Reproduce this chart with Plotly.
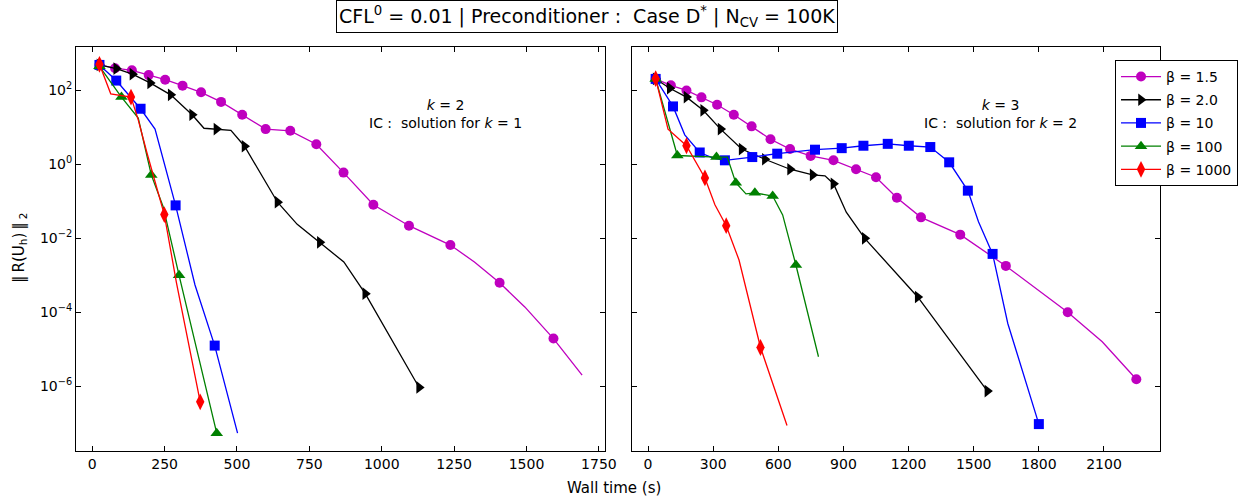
import plotly.graph_objects as go

# ---------------- data: panel k = 2 (IC: solution for k = 1) ----------------
k2_b15_t = [25, 79, 137, 195, 252, 312, 376, 445, 518, 599, 684, 774, 868, 971, 1094, 1237, 1320, 1407, 1494, 1593, 1692]
k2_b15_r = [490, 400, 350, 260, 195, 135, 89, 49, 22, 9.0, 8.1, 3.5, 0.60, 0.081, 0.022, 0.0066, 0.0023, 6.3e-4, 1.4e-4, 1.95e-5, 2.0e-6]
k2_b15_m = [1, 1, 1, 1, 1, 1, 1, 1, 1, 1, 1, 1, 1, 1, 1, 1, 0, 1, 0, 1, 0]

k2_b20_t = [25, 83, 139, 200, 271, 345, 386, 429, 479, 526, 640, 708, 786, 869, 943, 1129]
k2_b20_r = [490, 390, 275, 160, 76, 22, 9.5, 9.0, 8.3, 3.1, 0.095, 0.024, 0.0078, 0.0023, 3.2e-4, 9.3e-7]
k2_b20_m = [1, 1, 1, 1, 1, 1, 0, 1, 0, 1, 1, 0, 1, 0, 1, 1]

k2_b10_t = [25, 83, 167, 217, 288, 355, 423, 502]
k2_b10_r = [490, 185, 32, 9.0, 0.078, 5.5e-4, 1.26e-5, 5.4e-8]
k2_b10_m = [1, 1, 1, 0, 1, 0, 1, 0]

k2_b100_t = [25, 101, 159, 204, 245, 300, 430]
k2_b100_r = [450, 66, 18, 0.52, 0.072, 1.0e-3, 5.4e-8]
k2_b100_m = [1, 1, 0, 1, 0, 1, 1]

k2_b1000_t = [25, 64, 134, 159, 188, 249, 291, 373]
k2_b1000_r = [510, 81, 66, 16, 2.2, 0.044, 6.3e-4, 3.8e-7]
k2_b1000_m = [1, 0, 1, 0, 0, 1, 0, 1]

# ---------------- data: panel k = 3 (IC: solution for k = 2) ----------------
k3_b15_t = [35, 105, 177, 246, 318, 395, 477, 564, 654, 749, 854, 958, 1050, 1146, 1257, 1438, 1648, 1933, 2092, 2249]
k3_b15_r = [205, 138, 100, 65, 41, 22, 10.7, 4.8, 2.6, 1.7, 1.29, 0.74, 0.45, 0.126, 0.037, 0.0126, 0.0018, 1.0e-4, 1.6e-5, 1.55e-6]
k3_b15_m = [1, 1, 1, 1, 1, 1, 1, 1, 1, 1, 1, 1, 1, 1, 1, 1, 1, 1, 0, 1]

k3_b20_t = [35, 100, 177, 254, 334, 431, 538, 654, 758, 815, 854, 913, 998, 1242, 1563]
k3_b20_r = [205, 115, 66, 29, 9.0, 2.6, 1.38, 0.74, 0.52, 0.49, 0.30, 0.051, 0.010, 2.6e-4, 7.4e-7]
k3_b20_m = [1, 1, 1, 1, 1, 1, 1, 1, 1, 0, 1, 0, 1, 1, 1]

k3_b10_t = [35, 115, 169, 238, 300, 354, 480, 595, 769, 892, 992, 1104, 1201, 1300, 1387, 1473, 1522, 1587, 1657, 1800]
k3_b10_r = [205, 37, 6.3, 2.1, 1.48, 1.29, 1.58, 1.95, 2.5, 2.75, 3.2, 3.6, 3.2, 2.95, 1.14, 0.195, 0.028, 0.0038, 5e-5, 9.5e-8]
k3_b10_m = [1, 1, 0, 1, 0, 1, 1, 1, 1, 1, 1, 1, 1, 1, 1, 1, 0, 1, 0, 1]

k3_b100_t = [35, 112, 135, 315, 365, 404, 451, 492, 574, 620, 681, 785]
k3_b100_r = [205, 5.8, 1.74, 1.58, 1.58, 0.32, 0.16, 0.17, 0.14, 0.043, 1.9e-3, 6.3e-6]
k3_b100_m = [1, 0, 1, 1, 0, 1, 0, 1, 1, 0, 1, 0]

k3_b1000_t = [35, 92, 177, 262, 308, 360, 419, 518, 640]
k3_b1000_r = [210, 9.0, 3.2, 0.43, 0.081, 0.022, 2.6e-3, 1.12e-5, 8.7e-8]
k3_b1000_m = [1, 0, 1, 1, 0, 1, 0, 1, 0]

series_names = ["β = 1.5", "β = 2.0", "β = 10", "β = 100", "β = 1000"]

x1_ticks = [0, 250, 500, 750, 1000, 1250, 1500, 1750]
x2_ticks = [0, 300, 600, 900, 1200, 1500, 1800, 2100]
y_ticks = [1e2, 1e0, 1e-2, 1e-4, 1e-6]
y_ticktext = ["10<sup>2</sup>", "10<sup>0</sup>", "10<sup>−2</sup>", "10<sup>−4</sup>", "10<sup>−6</sup>"]

# ---------------- styles ----------------
styles = [
    dict(color="#BF00BF", symbol="circle", size=10),
    dict(color="#000000", symbol="triangle-right", size=11),
    dict(color="#0000FF", symbol="square", size=10),
    dict(color="#008000", symbol="triangle-up", size=11),
    dict(color="#FF0000", symbol="diamond-tall", size=12),
]

panels = [
    ("x", "y", [(k2_b15_t, k2_b15_r, k2_b15_m), (k2_b20_t, k2_b20_r, k2_b20_m),
                (k2_b10_t, k2_b10_r, k2_b10_m), (k2_b100_t, k2_b100_r, k2_b100_m),
                (k2_b1000_t, k2_b1000_r, k2_b1000_m)]),
    ("x2", "y2", [(k3_b15_t, k3_b15_r, k3_b15_m), (k3_b20_t, k3_b20_r, k3_b20_m),
                  (k3_b10_t, k3_b10_r, k3_b10_m), (k3_b100_t, k3_b100_r, k3_b100_m),
                  (k3_b1000_t, k3_b1000_r, k3_b1000_m)]),
]

fig = go.Figure()
for xa, ya, sers in panels:
    for (t, r, m), st in zip(sers, styles):
        fig.add_trace(go.Scatter(x=t, y=r, mode="lines", xaxis=xa, yaxis=ya,
                                 line=dict(color=st["color"], width=1.3),
                                 showlegend=False, hoverinfo="skip"))
        mt = [a for a, f in zip(t, m) if f]
        mr = [b for b, f in zip(r, m) if f]
        fig.add_trace(go.Scatter(x=mt, y=mr, mode="markers", xaxis=xa, yaxis=ya,
                                 marker=dict(color=st["color"], symbol=st["symbol"], size=st["size"],
                                             line=dict(width=0)),
                                 showlegend=False, hoverinfo="skip"))

# legend-only entries
for name, st in zip(series_names, styles):
    fig.add_trace(go.Scatter(x=[None], y=[None], mode="lines+markers", name=name,
                             xaxis="x2", yaxis="y2",
                             line=dict(color=st["color"], width=1.3),
                             marker=dict(color=st["color"], symbol=st["symbol"], size=st["size"]),
                             legendgroup=name))

axis_common = dict(showline=True, linecolor="black", linewidth=1, mirror="ticks",
                   ticks="inside", ticklen=5, tickwidth=1, tickcolor="black",
                   showgrid=False, zeroline=False,
                   tickfont=dict(family="DejaVu Sans", size=14, color="black"))

fig.update_layout(
    width=1244, height=501, autosize=False,
    margin=dict(l=76, r=84, t=47, b=50, autoexpand=False),
    paper_bgcolor="white", plot_bgcolor="white",
    font=dict(family="DejaVu Sans", size=14, color="black"),
    xaxis=dict(domain=[0, 0.488], range=[-56, 1771], tickvals=x1_ticks, anchor="y", **axis_common),
    xaxis2=dict(domain=[0.5129, 1.0], range=[-74, 2358], tickvals=x2_ticks, anchor="y2", **axis_common),
    yaxis=dict(type="log", range=[-7.75, 3.175], tickvals=y_ticks, ticktext=y_ticktext,
               anchor="x", **axis_common),
    yaxis2=dict(type="log", range=[-7.75, 3.175], tickvals=y_ticks, ticktext=y_ticktext,
                showticklabels=False, anchor="x2", matches="y", **axis_common),
    legend=dict(x=0.9585, y=0.968, xanchor="left", yanchor="top",
                bordercolor="black", borderwidth=1, bgcolor="white",
                font=dict(family="DejaVu Sans", size=14, color="black"),
                itemwidth=40, tracegroupgap=2),
    showlegend=True,
)

fig.add_annotation(xref="paper", yref="paper", x=0.4714, y=1.0755, xanchor="center", yanchor="middle",
                   text="CFL<sup>0</sup> = 0.01 | Preconditioner :\u00a0 Case D<sup>*</sup> | N<sub>CV</sub> = 100K",
                   showarrow=False, bordercolor="black", borderwidth=1, borderpad=2, bgcolor="white",
                   font=dict(size=19))
fig.add_annotation(xref="paper", yref="paper", x=0.496, y=-0.0916, xanchor="center", yanchor="middle",
                   text="Wall time (s)", showarrow=False, font=dict(size=15))
fig.add_annotation(xref="paper", yref="paper", x=-0.0517, y=0.5025, xanchor="center", yanchor="middle",
                   text="\u2016\u2009R(U<sub>h</sub>)\u2009\u2016\u2009<sub>2</sub>", textangle=-90,
                   showarrow=False, font=dict(size=15))
fig.add_annotation(xref="x", yref="y", x=1221, y=1.37, xanchor="center", yanchor="middle",
                   text="<i>k</i> = 2<br>IC :\u00a0 solution for <i>k</i> = 1", showarrow=False)
fig.add_annotation(xref="x2", yref="y2", x=1623, y=1.37, xanchor="center", yanchor="middle",
                   text="<i>k</i> = 3<br>IC :\u00a0 solution for <i>k</i> = 2", showarrow=False)

fig.write_html("out.html", config={"displayModeBar": False},
               post_script="document.body.style.margin='0';document.body.style.padding='0';")
